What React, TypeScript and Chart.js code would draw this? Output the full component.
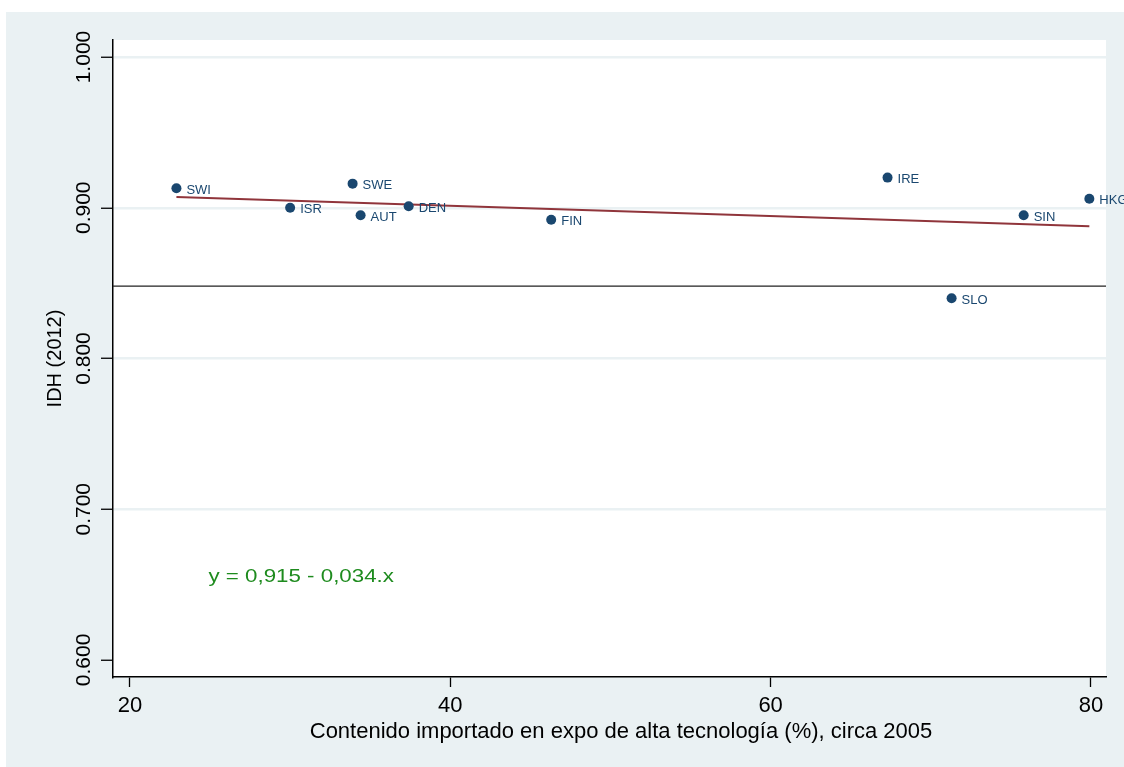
import { useEffect, useRef } from 'react';
import { Chart, registerables } from 'chart.js';

Chart.register(...registerables);

// ---- data ----
const COUNTRIES = ['SWI', 'ISR', 'SWE', 'AUT', 'DEN', 'FIN', 'IRE', 'SLO', 'SIN', 'HKG'];
const IMPORT_CONTENT = [22.9, 30.0, 33.9, 34.4, 37.4, 46.3, 67.3, 71.3, 75.8, 79.9];
const IDH_2012 = [0.913, 0.9, 0.916, 0.895, 0.901, 0.892, 0.92, 0.84, 0.895, 0.906];
const FIT_X = [22.9, 79.9];
const FIT_Y = [0.9072, 0.8878];
const MEAN_IDH = 0.848;
const X_TICKS = [20, 40, 60, 80];
const Y_TICKS = [0.6, 0.7, 0.8, 0.9, 1.0];
const X_MIN = 18.94;
const X_MAX = 80.94;
const Y_MIN = 0.5887;
const Y_MAX = 1.0113;
const EQUATION = 'y = 0,915 - 0,034.x';
const EQUATION_X = 24.9;
const EQUATION_Y = 0.6517;
const X_TITLE = 'Contenido importado en expo de alta tecnología (%), circa 2005';
const Y_TITLE = 'IDH (2012)';

const FONT = '"Liberation Sans", Arial, Helvetica, sans-serif';
const BG = '#eaf1f3';
const NAVY = '#1a476f';
const MAROON = '#90353b';

export default function App() {
  const ref = useRef<HTMLCanvasElement | null>(null);

  useEffect(() => {
    if (!ref.current) return;

    const backgroundPlugin = {
      id: 'stataBg',
      beforeDraw(chart: any) {
        const { ctx, chartArea, width, height } = chart;
        ctx.save();
        ctx.fillStyle = '#ffffff';
        ctx.fillRect(0, 0, width, height);
        ctx.fillStyle = BG;
        ctx.fillRect(6, 12, width - 6, height - 12);
        ctx.fillStyle = '#ffffff';
        ctx.fillRect(chartArea.left, chartArea.top, chartArea.right - chartArea.left, chartArea.bottom - chartArea.top);
        ctx.restore();
      },
    };

    const textPlugin = {
      id: 'stataText',
      afterDraw(chart: any) {
        const { ctx, chartArea } = chart;
        const xs = chart.scales.x;
        const ys = chart.scales.y;
        ctx.save();
        // y tick labels (rotated)
        ctx.font = `21px ${FONT}`;
        ctx.fillStyle = '#000';
        ctx.textAlign = 'center';
        ctx.textBaseline = 'middle';
        for (const v of Y_TICKS) {
          const py = ys.getPixelForValue(v);
          ctx.save();
          ctx.translate(chartArea.left - 29, py);
          ctx.rotate(-Math.PI / 2);
          ctx.fillText(v.toFixed(3), 0, 0);
          ctx.restore();
        }
        // y title
        ctx.font = `20px ${FONT}`;
        ctx.save();
        ctx.translate(chartArea.left - 52, (chartArea.top + chartArea.bottom) / 2);
        ctx.rotate(-Math.PI / 2);
        ctx.textBaseline = 'alphabetic';
        ctx.fillText(Y_TITLE, 0, 0);
        ctx.restore();
        // x title
        ctx.font = `22px ${FONT}`;
        ctx.textAlign = 'center';
        ctx.textBaseline = 'alphabetic';
        ctx.fillText(X_TITLE, (chartArea.left + chartArea.right) / 2 + 11.5, chartArea.bottom + 61);
        // point labels
        const meta = chart.getDatasetMeta(0);
        ctx.font = `13px ${FONT}`;
        ctx.fillStyle = NAVY;
        ctx.textAlign = 'left';
        ctx.textBaseline = 'middle';
        meta.data.forEach((pt: any, i: number) => {
          ctx.fillText(COUNTRIES[i], pt.x + 10, pt.y + 2);
        });
        // equation (wide rendering as in the original)
        ctx.save();
        ctx.font = `18px ${FONT}`;
        ctx.fillStyle = '#1e8b1e';
        ctx.textBaseline = 'alphabetic';
        ctx.translate(xs.getPixelForValue(EQUATION_X), ys.getPixelForValue(EQUATION_Y));
        ctx.scale(1.24, 1);
        ctx.fillText(EQUATION, 0, 0);
        ctx.restore();
        ctx.restore();
      },
    };

    const chart = new Chart(ref.current, {
      type: 'scatter',
      data: {
        datasets: [
          {
            label: 'IDH',
            data: IMPORT_CONTENT.map((x, i) => ({ x, y: IDH_2012[i] })),
            backgroundColor: NAVY,
            borderColor: NAVY,
            pointRadius: 5,
            pointBorderWidth: 0,
          },
          {
            label: 'fit',
            data: FIT_X.map((x, i) => ({ x, y: FIT_Y[i] })),
            showLine: true,
            borderColor: MAROON,
            borderWidth: 2,
            pointRadius: 0,
          },
          {
            label: 'mean',
            data: [
              { x: X_MIN, y: MEAN_IDH },
              { x: X_MAX, y: MEAN_IDH },
            ],
            showLine: true,
            borderColor: '#222222',
            borderWidth: 1.4,
            pointRadius: 0,
          },
        ],
      },
      options: {
        responsive: false,
        animation: false,
        devicePixelRatio: 1,
        layout: { padding: { left: 0, top: 40, right: 18, bottom: 0 } },
        plugins: { legend: { display: false }, tooltip: { enabled: false } },
        scales: {
          x: {
            type: 'linear',
            min: X_MIN,
            max: X_MAX,
            afterBuildTicks: (s: any) => {
              s.ticks = X_TICKS.map((value) => ({ value }));
            },
            afterFit: (s: any) => {
              s.height = 90;
            },
            grid: {
              drawOnChartArea: false,
              drawTicks: true,
              tickLength: 10,
              tickColor: '#000',
              tickWidth: 1.3,
            },
            border: { display: true, color: '#000', width: 1.5 },
            ticks: {
              color: '#000',
              font: { family: FONT, size: 22 },
              padding: 6,
              maxRotation: 0,
              callback: (v: any) => String(v),
            },
          },
          y: {
            type: 'linear',
            min: Y_MIN,
            max: Y_MAX,
            afterBuildTicks: (s: any) => {
              s.ticks = Y_TICKS.map((value) => ({ value }));
            },
            afterFit: (s: any) => {
              s.width = 113;
            },
            grid: {
              color: (c: any) => (c.tick && Math.abs(c.tick.value - 0.6) < 1e-6 ? 'rgba(0,0,0,0)' : BG),
              lineWidth: 2.5,
              drawTicks: true,
              tickLength: 12,
              tickColor: '#000',
              tickWidth: 1.3,
            },
            border: { display: true, color: '#000', width: 1.5 },
            ticks: { display: false },
          },
        },
      },
      plugins: [backgroundPlugin, textPlugin],
    });

    return () => chart.destroy();
  }, []);

  return (
    <div style={{ position: 'fixed', left: 0, top: 0, width: 1124, height: 767 }}>
      <canvas ref={ref} width={1124} height={767} style={{ display: 'block' }} />
    </div>
  );
}
